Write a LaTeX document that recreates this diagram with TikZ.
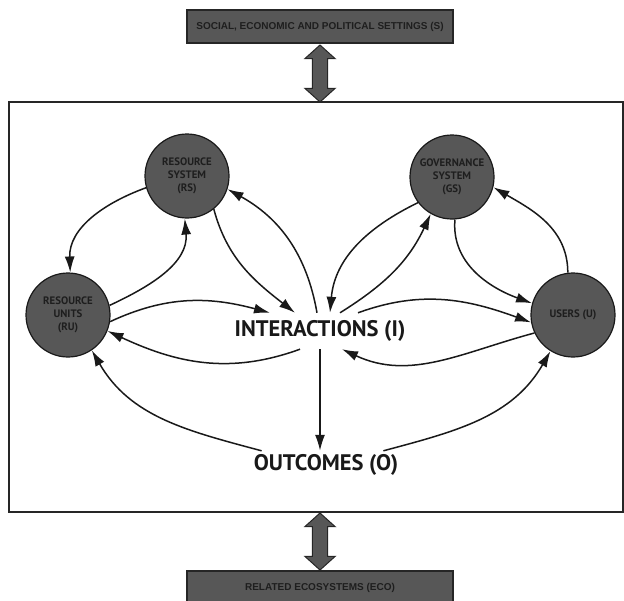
\documentclass[tikz,border=0pt]{standalone}
\usepackage{fontspec}
\setmainfont{Liberation Sans}
\newfontfamily\labelfont{PT Sans}
\usetikzlibrary{arrows.meta,shapes.arrows,positioning}

\definecolor{boxgray}{HTML}{575757}
\definecolor{inkgray}{HTML}{1E1E1E}

\tikzset{
  settingbox/.style={draw=black!85,line width=1.2pt,fill=boxgray,minimum width=266pt,minimum height=33pt,
    font=\bfseries\fontsize{10}{12}\selectfont,text=inkgray},
  component/.style={circle,draw=black!90,line width=1.2pt,fill=boxgray,minimum size=84pt,inner sep=0pt,
    align=center,text=inkgray,font=\labelfont\bfseries\fontsize{10.8}{13}\selectfont},
  biglabel/.style={font=\labelfont\bfseries\fontsize{22.5}{24}\selectfont,text=black!90,inner sep=0pt,minimum height=36pt},
  link/.style={-{Latex[length=16pt,width=10pt]},line width=1.5pt,black!90},
  fatarrow/.style={double arrow,draw=black!85,line width=1pt,fill=boxgray,rotate=90,inner xsep=0pt,inner ysep=7.2pt,
    minimum height=57pt,minimum width=30pt,double arrow head extend=7.5pt,double arrow tip angle=96,double arrow head indent=0pt}
}

\begin{document}
\begin{tikzpicture}[x=1pt,y=1pt]
  \useasboundingbox (0,0) rectangle (624,-600);

  % outer settings
  \node[settingbox] (S) at (320,-26.5) {SOCIAL, ECONOMIC AND POLITICAL SETTINGS (S)};
  \node[settingbox] (ECO) at (320,-587.5) {RELATED ECOSYSTEMS (ECO)};
  \node[draw=black!85,line width=1.6pt,minimum width=614pt,minimum height=410pt] (SES) at (316,-307) {};
  \node[fatarrow] (SA) at (320,-73.5) {};
  \node[fatarrow] (EA) at (320,-541.5) {};

  % core subsystems
  \node[component] (RS) at (187,-176) {RESOURCE\\SYSTEM\\(RS)};
  \node[component] (GS) at (452,-177) {GOVERNANCE\\SYSTEM\\(GS)};
  \node[component] (RU) at (68,-315) {RESOURCE\\UNITS\\(RU)};
  \node[component] (U) at (573,-315) {USERS (U)};
  \node[biglabel] (I) at (320,-331) {INTERACTIONS (I)};
  \node[biglabel,minimum height=28pt] (O) at (326,-465) {OUTCOMES (O)};

  % links
  \draw[link] (RS.196) to[out=200,in=92] (RU.87);
  \draw[link] (RU.13) to[out=25,in=-85] (RS.267);
  \draw[link] (RS.-51) to[out=-75,in=142] ([xshift=-25pt]I.north);
  \draw[link] ([xshift=-3pt]I.north) to[out=100,in=-29] (RS.-18);
  \draw[link] (RU.-9) to[out=25,in=165] ([xshift=-50pt]I.north);
  \draw[link] ([xshift=-20pt]I.south) to[out=200,in=-25] (RU.-22);
  \draw[link] (GS.217) to[out=206,in=85] ([xshift=10pt]I.north);
  \draw[link] ([xshift=20pt]I.north) to[out=32,in=245] (GS.240);
  \draw[link] (GS.-86) to[out=-95,in=160] (U.164);
  \draw[link] (U.97) to[out=90,in=-30] (GS.-14);
  \draw[link] ([xshift=38pt]I.north) to[out=20,in=160] (U.190);
  \draw[link] (U.205) to[out=195,in=-25] ([xshift=22pt]I.south);
  \draw[link] (I.south) -- (I.south |- O.north);
  \draw[link] ([xshift=8pt]O.north west) to[out=165,in=-60] (RU.-56);
  \draw[link] ([xshift=-15pt]O.north east) to[out=15,in=-120] (U.238);
\end{tikzpicture}
\end{document}
